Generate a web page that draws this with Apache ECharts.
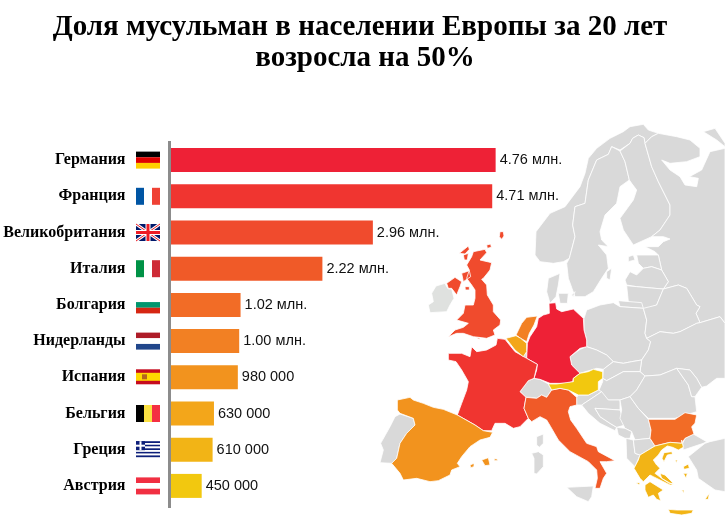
<!DOCTYPE html>
<html><head><meta charset="utf-8">
<style>html,body{margin:0;padding:0;background:#fff}#c{width:726px;height:525px}</style>
<script src="https://cdn.jsdelivr.net/npm/echarts@6/dist/echarts.min.js"></script>
</head><body><div id="c"></div>
<script>
const titleLines = ['Доля мусульман в населении Европы за 20 лет','возросла на 50%'];
const categories = ['Германия','Франция','Великобритания','Италия','Болгария','Нидерланды','Испания','Бельгия','Греция','Австрия'];
const values = [4.76,4.71,2.96,2.22,1.02,1.00,0.98,0.63,0.61,0.45];
const valueLabels = ['4.76 млн.','4.71 млн.','2.96 млн.','2.22 млн.','1.02 млн.','1.00 млн.','980 000','630 000','610 000','450 000'];
const barColors = ['#EE2136','#F03530','#F04B2D','#F05A28','#F26C26','#F28023','#F2931E','#F3A61A','#F2B416','#F2C80F'];
const LAND = '#D9D9D9';

// map outlines, traced at 3x; each helper moves a trace of one sheet into a shared drawing-space
const sheet = (dx,dy) => (rings) => rings.map(r => r.map(([x,y]) => [x+dx,y+dy]));
const A = sheet(450,-585), B = sheet(150,-210), C = sheet(600,-30), D = sheet(630,300);

const germany = [[[507,-20],[527,-22],[530,-3],[545,5],[580,-3],[610,25],[612,60],[620,90],[620,110],[600,115],[570,140],[575,165],[600,190],[580,205],[578,215],[560,220],[510,220],[480,208],[462,205],[470,180],[472,163],[440,145],[442,100],[450,80],[470,50],[475,25],[490,15],[508,10]]];
const france = [[[352,85],[375,88],[405,125],[440,145],[472,163],[462,205],[445,212],[420,245],[438,262],[432,295],[445,325],[420,350],[400,355],[375,340],[345,340],[335,362],[310,362],[285,345],[232,315],[245,280],[260,240],[265,215],[245,180],[228,155],[205,150],[205,130],[245,130],[270,140],[275,110],[290,125],[320,120],[348,105]]];
const spain = [[[52,270],[90,262],[100,270],[130,280],[160,292],[190,298],[232,315],[285,345],[310,362],[338,367],[330,382],[300,390],[270,410],[245,440],[232,460],[240,470],[215,480],[210,495],[175,512],[150,515],[110,505],[70,510],[60,490],[35,460],[50,445],[60,400],[80,370],[105,345],[100,325],[60,310],[52,300]],
 [[270,465],[282,460],[282,470],[272,473]],[[305,450],[325,443],[330,465],[315,467]],[[342,446],[352,447],[352,452],[344,452]]];
const portugal = [[[60,312],[100,325],[105,345],[80,370],[60,400],[50,445],[35,460],[0,458],[10,420],[2,400],[30,350],[45,320]]];
const uk = B([[[130,35],[165,28],[170,38],[150,60],[185,68],[180,90],[160,115],[155,118],[170,135],[172,165],[190,195],[190,215],[212,240],[210,255],[190,270],[195,285],[170,295],[130,290],[100,280],[80,280],[55,290],[75,270],[100,262],[115,250],[80,240],[100,220],[105,195],[130,195],[135,175],[135,150],[125,135],[110,115],[118,90],[110,75],[125,50]],
 [[50,130],[75,112],[95,125],[90,140],[80,165],[65,145],[55,145]],
 [[88,40],[115,18],[118,28],[105,42]],[[100,45],[115,40],[112,60],[103,60]],[[95,100],[118,92],[122,110],[100,125]],[[170,15],[182,12],[184,22],[172,25]],[[210,-25],[220,-25],[222,-12],[215,-2],[208,-10]],[[105,140],[118,140],[118,150],[106,150]],[[140,293],[150,293],[148,298]]]);
const ireland = B([[[5,160],[18,138],[45,130],[50,140],[55,147],[65,147],[72,175],[60,195],[50,215],[0,218],[-5,195],[10,185]]]);
const netherlands = B([[[258,285],[275,250],[290,232],[322,228],[312,255],[298,280],[290,305],[272,295]]]);
const belgium = B([[[228,295],[258,287],[272,295],[290,310],[290,335],[280,350],[255,330]]]);
const austria = [[[505,222],[530,222],[580,215],[580,205],[600,190],[625,185],[640,178],[668,185],[668,205],[655,215],[655,240],[625,255],[595,255],[565,240],[540,235],[515,240]]];
const switzerland = [[[420,245],[445,212],[462,205],[480,208],[505,222],[515,240],[500,262],[485,255],[470,265],[450,262],[438,262]]];
const italy = [[[438,262],[470,265],[485,255],[500,262],[515,240],[540,235],[565,240],[590,262],[590,285],[570,290],[565,305],[572,330],[590,355],[620,400],[650,410],[655,425],[705,452],[680,455],[660,455],[680,490],[670,505],[660,535],[645,535],[652,505],[650,480],[625,455],[570,425],[535,390],[512,350],[500,330],[480,320],[455,335],[445,325],[432,295]]];
const islandsGrey = [[[455,430],[475,425],[490,435],[490,470],[470,492],[462,490],[462,445]],[[470,380],[490,372],[490,400],[478,412],[470,405]],[[560,532],[640,528],[635,560],[625,575],[590,560]]];
const bulgaria = D([[[175,28],[255,28],[285,8],[320,15],[315,40],[305,50],[312,72],[285,85],[275,100],[240,97],[195,108],[180,85],[183,60]]]);
const greece = D([[[275,90],[280,112],[265,120],[248,112],[232,108],[215,120],[205,135],[190,150],[200,165],[210,175],[195,190],[215,205],[250,225],[240,225],[210,210],[190,200],[180,195],[160,215],[150,205],[132,175],[145,150],[150,135],[195,108],[240,97],[275,100]],
 [[165,225],[180,215],[220,240],[205,250],[212,272],[200,268],[190,255],[175,262],[165,240]],
 [[235,298],[260,300],[310,300],[305,310],[275,315],[240,310]],[[345,268],[358,250],[355,268]],[[138,218],[150,218],[148,225]],[[280,170],[295,162],[298,175],[282,178]],[[280,190],[292,190],[288,205]],[[255,150],[262,150],[260,158]],[[275,240],[282,240],[282,248]],[[258,220],[265,222],[262,224]],[[222,128],[245,125],[248,132],[232,135],[222,155],[216,145]],[[210,190],[225,195],[250,220],[238,220],[215,205]]]);
const norway = A([[[18,350],[60,295],[105,275],[150,215],[165,175],[175,130],[200,100],[240,70],[280,50],[300,35],[340,28],[355,45],[385,55],[365,65],[345,85],[342,68],[325,60],[308,70],[300,85],[270,105],[245,95],[235,118],[200,135],[175,195],[165,265],[135,275],[128,330],[135,365],[118,430],[100,440],[70,445],[30,440],[15,420]]]);
const sweden = A([[[245,95],[270,108],[285,140],[298,195],[270,215],[260,265],[225,300],[210,350],[215,375],[235,395],[205,390],[230,420],[235,460],[215,490],[190,530],[165,545],[135,545],[115,490],[110,445],[118,430],[135,365],[128,330],[135,275],[165,265],[175,195],[200,135],[235,118]]]);
const finland = A([[[270,108],[300,85],[308,70],[325,60],[342,68],[345,85],[365,155],[385,200],[420,270],[420,300],[390,345],[365,365],[310,390],[280,345],[270,310],[310,255],[320,225],[305,205],[298,195],[285,140]]]);
const russia = A([[[345,85],[365,65],[385,55],[440,65],[480,75],[510,100],[510,125],[470,140],[420,145],[395,135],[420,165],[450,185],[465,210],[500,215],[505,190],[478,185],[515,165],[540,110],[585,100],[585,625],[570,605],[510,623],[498,595],[510,575],[500,570],[470,520],[445,510],[400,522],[415,500],[395,465],[385,420],[375,410],[345,395],[385,395],[400,380],[420,372],[400,365],[365,365],[390,345],[420,300],[420,270],[385,200],[365,155]],
 [[520,50],[555,40],[585,85],[585,95],[560,75]]]);
const estonia = A([[[320,420],[385,420],[395,465],[365,455],[340,460],[325,445]],[[295,425],[310,420],[315,435],[295,440]]]);
const latvia = A([[[285,495],[300,470],[320,480],[340,460],[365,455],[395,465],[415,500],[400,522],[375,520],[320,515],[290,510]]]);
const lithuania = A([[[290,512],[320,515],[375,520],[400,522],[380,570],[340,585],[295,560]]]);
const kaliningrad = [[[715,-28],[785,-22],[790,-5],[720,-10]]];
const poland = [[[612,25],[620,0],[660,-15],[700,-22],[720,-10],[790,-5],[800,30],[795,70],[800,85],[812,95],[805,120],[785,150],[755,155],[730,160],[700,155],[680,135],[650,120],[620,110],[620,90],[612,60]]];
const belarus = C([[[200,115],[195,100],[200,60],[190,25],[230,15],[250,-33],[295,-45],[320,-35],[350,15],[360,20],[348,40],[360,68],[350,70],[300,95],[280,100],[240,95]]]);
const ukraine = C([[[195,228],[180,215],[185,180],[205,150],[212,125],[200,115],[240,95],[280,100],[300,95],[350,70],[360,68],[420,50],[435,70],[435,235],[410,235],[380,258],[365,262],[350,235],[330,210],[290,205],[240,225]]]);
const czech = C([[[-30,170],[0,148],[20,140],[50,150],[80,165],[100,185],[70,208],[50,205],[0,220],[-25,195]]]);
const slovakia = C([[[100,185],[130,190],[155,185],[185,180],[180,215],[130,215],[80,242],[68,235],[70,208]]]);
const hungary = C([[[68,235],[80,242],[130,215],[180,215],[195,228],[170,270],[150,290],[120,300],[85,300],[55,275],[68,245]]]);
const slovenia = [[[595,255],[625,255],[655,240],[665,245],[640,262],[605,285],[590,285],[590,262]]];
const croatia = [[[640,262],[665,245],[685,270],[720,270],[720,300],[645,295],[660,320],[690,340],[710,352],[705,362],[660,340],[625,310],[605,285]]];
const bosnia = [[[645,295],[720,300],[735,345],[710,352],[690,340],[660,320]]];
const serbia = D([[[90,-30],[120,-40],[145,-5],[175,28],[183,60],[180,85],[135,90],[125,65],[105,55],[90,25],[95,0]]]);
const montenegro = D([[[80,52],[105,55],[125,65],[120,85],[105,85],[85,75]]]);
const albania = D([[[108,85],[130,90],[135,130],[150,135],[135,170],[110,145]]]);
const macedonia = D([[[130,90],[180,85],[195,108],[150,135],[135,130]]]);
const romania = C([[[195,228],[240,225],[290,205],[325,255],[335,290],[345,290],[350,335],[285,355],[205,355],[175,325],[150,290],[170,270]]]);
const moldova = C([[[290,205],[330,210],[350,235],[365,262],[345,290],[335,290],[325,255]]]);
const turkey = D([[[278,100],[285,85],[310,72],[350,95],[340,100],[295,115],[280,120]],[[405,85],[360,95],[345,100],[320,120],[295,140],[320,180],[325,205],[375,240],[405,245]]]);
const denmark = A([[[55,490],[90,475],[85,510],[78,545],[60,565],[50,530]],[[85,535],[115,535],[112,565],[90,565]],[[125,540],[135,530],[130,545]],[[230,470],[245,460],[240,495],[230,490]]]);
const luxembourg = [[[428,140],[442,125],[440,145]]];

const regionData = [
 ['Portugal',portugal,LAND],['Ireland',ireland,'#DFE1DF'],['Switzerland',switzerland,LAND],['IslandsGrey',islandsGrey,LAND],
 ['Norway',norway,LAND],['Sweden',sweden,LAND],['Finland',finland,LAND],['Russia',russia,LAND],['Estonia',estonia,LAND],['Latvia',latvia,LAND],
 ['Lithuania',lithuania,LAND],['Kaliningrad',kaliningrad,LAND],['Poland',poland,LAND],['Belarus',belarus,LAND],['Ukraine',ukraine,LAND],
 ['Czech',czech,LAND],['Slovakia',slovakia,LAND],['Hungary',hungary,LAND],['Slovenia',slovenia,LAND],['Croatia',croatia,LAND],['Bosnia',bosnia,LAND],
 ['Serbia',serbia,LAND],['Montenegro',montenegro,LAND],['Albania',albania,LAND],['Macedonia',macedonia,LAND],['Romania',romania,LAND],
 ['Moldova',moldova,LAND],['Turkey',turkey,LAND],['Denmark',denmark,LAND],['Luxembourg',luxembourg,LAND],
 ['Germany',germany,barColors[0]],['France',france,barColors[1]],['UK',uk,barColors[2]],['Italy',italy,barColors[3]],
 ['Bulgaria',bulgaria,barColors[4]],['Netherlands',netherlands,barColors[5]],['Spain',spain,barColors[6]],['Belgium',belgium,barColors[7]],
 ['Greece',greece,barColors[8]],['Austria',austria,barColors[9]]
];
const frame = [[[-1140,-930],[1038,-930],[1038,645],[-1140,645]]];
const features = [['frame',frame]].concat(regionData.map(r=>[r[0],r[1]])).map(([name,polys])=>({
  type:'Feature',properties:{name},
  geometry:{type:'MultiPolygon',coordinates:polys.map(p=>{const ring=p.map(([x,y])=>[x,-y]);ring.push(ring[0]);return [ring];})}
}));
echarts.registerMap('europe',{type:'FeatureCollection',features});

const flags = [
 {d:'h',c:['#000000','#E00000','#FFCE00']},
 {d:'v',c:['#0055A4','#FFFFFF','#EF4135']},
 {d:'uk'},
 {d:'v',c:['#009246','#FFFFFF','#CE2B37']},
 {d:'h',c:['#FFFFFF','#00966E','#D62612']},
 {d:'h',c:['#AE1C28','#FFFFFF','#21468B']},
 {d:'es'},
 {d:'v',c:['#000000','#FAE042','#F42F42']},
 {d:'gr'},
 {d:'h',c:['#F12F42','#FFFFFF','#F12F42']}
];
function rect(x,y,w,h,fill){return {type:'rect',shape:{x,y,width:w,height:h},style:{fill},silent:true};}
function flagShapes(i,x,cy){
  const f=flags[i],W=24,H=17,y=cy-8.5,out=[];
  if(f.d==='h'){f.c.forEach((c,k)=>out.push(rect(x,y+k*H/3,W,H/3+.01,c)));}
  else if(f.d==='v'){f.c.forEach((c,k)=>out.push(rect(x+k*8,y,8,H,c)));}
  else if(f.d==='es'){
    out.push(rect(x,y+0.5,W,15,'#C60B1E'),rect(x,y+4,W,8,'#FFD800'),rect(x+6,y+5.5,5,5,'#B5651D'));
  } else if(f.d==='gr'){
    for(let k=0;k<9;k++)out.push(rect(x,y+k*16/9,W,16/9,k%2?'#FFFFFF':'#0D1F7A'));
    out.push(rect(x,y,9,9,'#0D1F7A'),rect(x+3.5,y,2,9,'#FFFFFF'),rect(x,y+3.5,9,2,'#FFFFFF'));
  } else {
    out.push(rect(x,y,W,H,'#00186B'));
    const ln=(a,b,c,d,col,w)=>({type:'line',shape:{x1:a,y1:b,x2:c,y2:d},style:{stroke:col,lineWidth:w},silent:true});
    out.push(ln(x,y,x+W,y+H,'#FFFFFF',3),ln(x+W,y,x,y+H,'#FFFFFF',3),ln(x,y,x+W,y+H,'#ED1C24',1),ln(x+W,y,x,y+H,'#ED1C24',1));
    out.push(rect(x+9.5,y,5,H,'#FFFFFF'),rect(x,y+6,W,5,'#FFFFFF'),rect(x+10.5,y,3,H,'#ED1C24'),rect(x,y+7,W,3,'#ED1C24'));
  }
  return out;
}

const titleStyle = {fontFamily:'"Liberation Serif"',fontWeight:'bold',fontSize:29,lineHeight:34,color:'#000'};
const chart = echarts.init(document.getElementById('c'),null,{renderer:'canvas'});
chart.setOption({
  animation:false,
  backgroundColor:'#fff',
  title:[{text:titleLines[0],left:355,top:6,textAlign:'center',textStyle:titleStyle},
         {text:titleLines[1],left:360,top:37,textAlign:'center',textStyle:titleStyle}],
  geo:{map:'europe',roam:false,silent:true,aspectScale:1,left:0,top:0,width:726,height:525,z:0,
    label:{show:false},
    itemStyle:{areaColor:LAND,borderColor:'#fff',borderWidth:0.8},
    emphasis:{disabled:true},
    regions:[{name:'frame',itemStyle:{areaColor:'rgba(0,0,0,0)',borderWidth:0,borderColor:'rgba(0,0,0,0)'}}]
      .concat(regionData.map(r=>({name:r[0],itemStyle:{areaColor:r[2]}})))},
  grid:{left:171,top:142,width:545.6,height:362,outerBoundsMode:'none'},
  xAxis:{type:'value',min:0,max:8,show:false},
  yAxis:{type:'category',inverse:true,data:categories,offset:1.5,
    axisLine:{show:false},axisTick:{show:false},
    axisLabel:{margin:44,color:'#000',fontFamily:'"Liberation Serif"',fontWeight:'bold',fontSize:16}},
  series:[
    {type:'bar',z:3,barWidth:24,data:values.map((v,i)=>({value:v,itemStyle:{color:barColors[i]}})),
     label:{show:true,position:'right',distance:4,color:'#111',fontFamily:'"Liberation Sans"',fontSize:14.5,
       formatter:p=>valueLabels[p.dataIndex]},silent:true},
    {type:'custom',z:3,clip:false,silent:true,data:categories.map((c,i)=>[0,i]),
     renderItem:(params,api)=>{
       const p=api.coord([0,api.value(1)]);
       const kids=flagShapes(params.dataIndex,p[0]-35,p[1]);
       if(params.dataIndex===0) kids.push(rect(p[0]-3,Math.round(p[1])-19,3,367,'#8C8C8C'));
       return {type:'group',children:kids};
     }}
  ]
});
</script></body></html>
